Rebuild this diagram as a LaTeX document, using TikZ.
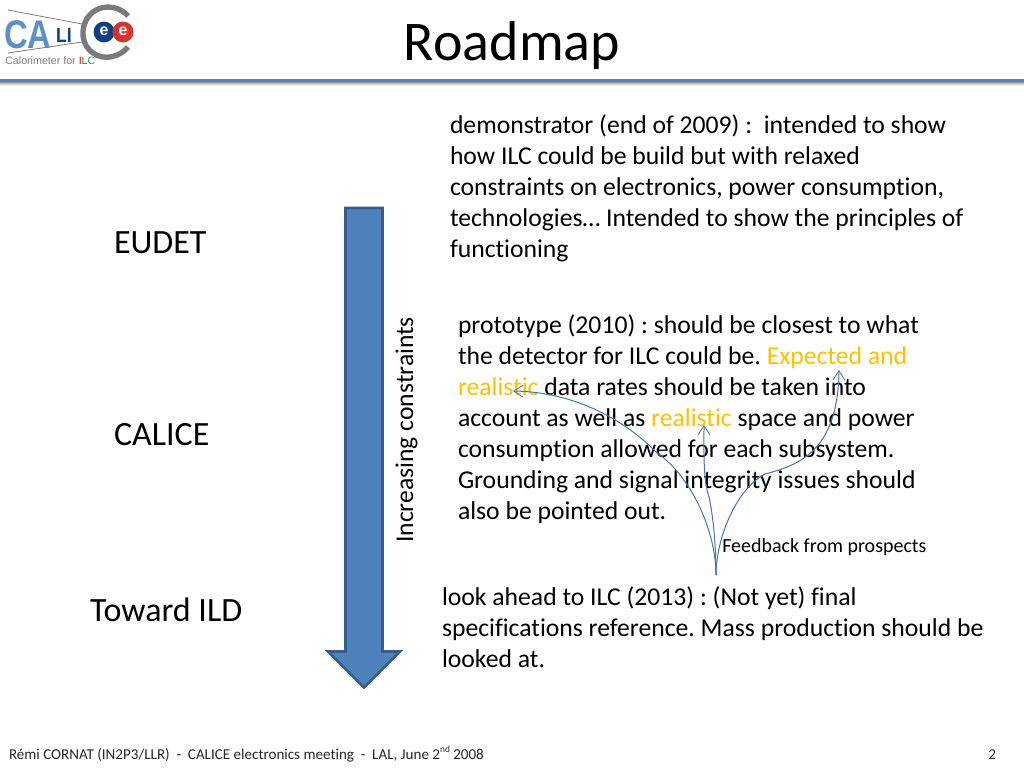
\documentclass[tikz,border=0pt]{standalone}
\usepackage{fontspec}
\setmainfont[Ligatures=NoCommon]{Carlito}
\newfontfamily\logofont{Liberation Sans}
\usetikzlibrary{arrows.meta}
\definecolor{slideblue}{HTML}{4F81BD}
\definecolor{arrowedge}{HTML}{385D8A}
\definecolor{hilite}{HTML}{FFC000}
\definecolor{logoblue}{HTML}{5B8FC7}
\definecolor{logonavy}{HTML}{123F84}
\definecolor{logogray}{HTML}{7A7A7A}
\definecolor{logored}{HTML}{D5352C}
\frenchspacing
\newcommand{\hl}[1]{\textcolor{hilite}{#1}}
\newcommand{\supnd}[1]{\raisebox{0.42em}{\fontsize{7pt}{8pt}\selectfont #1}}
\tikzset{
  x=0.75pt,y=-0.75pt,
  body/.style={inner sep=0pt,outer sep=0pt,anchor=north west,align=left,font=\frenchspacing\fontsize{19.25pt}{23.25pt}\selectfont,text=black},
  side/.style={inner sep=0pt,outer sep=0pt,anchor=base west,font=\fontsize{25.5pt}{28pt}\selectfont},
  foot/.style={inner sep=0pt,outer sep=0pt,anchor=base west,font=\fontsize{11.3pt}{12pt}\selectfont,text=black!85},
  feedback/.style={draw=slideblue!90!black,line width=0.75pt,-{Straight Barb[length=7pt,width=9pt,line width=0.6pt]}},
  logotext/.style={inner sep=0pt,anchor=base west,transform shape,text depth=0pt},
}
\begin{document}
\begin{tikzpicture}
\useasboundingbox (0,0) rectangle (1024,768);
% header rule and shadow
\foreach \yy/\tt in {85/8,84/16,83/28,82/42}{\fill[black!\tt] (0,\yy) rectangle (1024,\yy+1);}
\fill[slideblue] (0,78.5) rectangle (1024,81.5);
% logo
\draw[logogray,line width=0.6pt] (8,10) -- (82,24);
\draw[logogray,line width=0.6pt] (8,53) -- (82,42);
\node[logotext,xscale=0.82,font=\logofont\bfseries\fontsize{30pt}{30pt}\selectfont,text=logoblue] (logoa) at (4,48) {CA};
\node[logotext,xscale=0.85,font=\logofont\bfseries\fontsize{15.5pt}{16pt}\selectfont,text=logonavy] (logoc) at (56,42) {LI};
\draw[logogray,line width=4pt] (128,16) .. controls (118,4) and (98,4) .. (89,16) .. controls (79,28) and (82,46) .. (93,53) .. controls (104,61) and (120,57) .. (128,47);
\fill[logonavy] (104,32) circle[radius=10.5];
\fill[logored] (123,32) circle[radius=10.5];
\node[inner sep=0pt,font=\logofont\bfseries\fontsize{12pt}{12pt}\selectfont,text=white] (logoe1) at (104,31) {e};
\node[inner sep=0pt,font=\logofont\bfseries\fontsize{12pt}{12pt}\selectfont,text=white] (logoe2) at (123,31) {e};
\node[inner sep=0pt,anchor=base west,font=\logofont\fontsize{8pt}{8pt}\selectfont,text=logogray] (logotag) at (5,64) {Calorimeter for \textcolor{red!80!black}{I}\textcolor{green!60!black}{L}\textcolor{cyan!60!black}{C}};
% title
\node[inner sep=0pt,anchor=base,font=\fontsize{42pt}{46pt}\selectfont,text=black] (title) at (512,60) {Roadmap};
% side labels
\node[side] (eudet) at (114,253) {EUDET};
\node[side] (calice) at (114,445) {CALICE};
\node[side] (ild) at (90,621) {Toward ILD};
% big arrow
\draw[fill=slideblue,draw=arrowedge,line width=2pt,line join=miter]
  (345.5,208) -- (382.5,208) -- (382.5,651.5) -- (400,651.5) -- (364,687.5) -- (328,651.5) -- (345.5,651.5) -- cycle;
\node[inner sep=0pt,rotate=90,anchor=base west,font=\fontsize{19.2pt}{23pt}\selectfont,text=black] (constraints) at (413,543) {Increasing constraints};
% texts
\node[body] (demo) at (450,115) {demonstrator (end of 2009) :\ \ intended to show\\how ILC could be build but with relaxed\\constraints on electronics, power consumption,\\technologies… Intended to show the principles of\\functioning};
\node[body] (proto) at (458,315) {prototype (2010) : should be closest to what\\the detector for ILC could be. \hl{Expected and}\\\hl{realistic} data rates should be taken into\\account as well as \hl{realistic} space and power\\consumption allowed for each subsystem.\\Grounding and signal integrity issues should\\also be pointed out.};
\node[body] (ahead) at (442,587) {look ahead to ILC (2013) : (Not yet) final\\specifications reference. Mass production should be\\looked at.};
\node[inner sep=0pt,anchor=base west,font=\fontsize{15pt}{17pt}\selectfont,text=black] (fb) at (722,552) {Feedback from prospects};
% feedback connectors
\coordinate (src) at (716,575);
\coordinate (t1) at (513,391);
\coordinate (t2) at (704,425);
\coordinate (t3) at (839,370);
\draw[feedback] (src) .. controls (716,530) and (690,475) .. (657,453) .. controls (625,420) and (575,392) .. (t1);
\draw[feedback] (src) .. controls (716,540) and (712,510) .. (709,497) .. controls (703,480) and (704,450) .. (t2);
\draw[feedback] (src) .. controls (716,540) and (735,490) .. (765,474) .. controls (800,465) and (838,450) .. (t3);
% footer
\node[foot] (footl) at (9,759) {Rémi CORNAT (IN2P3/LLR)\ \ -\ \ CALICE electronics meeting\ \ -\ \ LAL, June 2\supnd{nd} 2008};
\node[foot,anchor=base east] (footr) at (996,759) {2};
\end{tikzpicture}
\end{document}
